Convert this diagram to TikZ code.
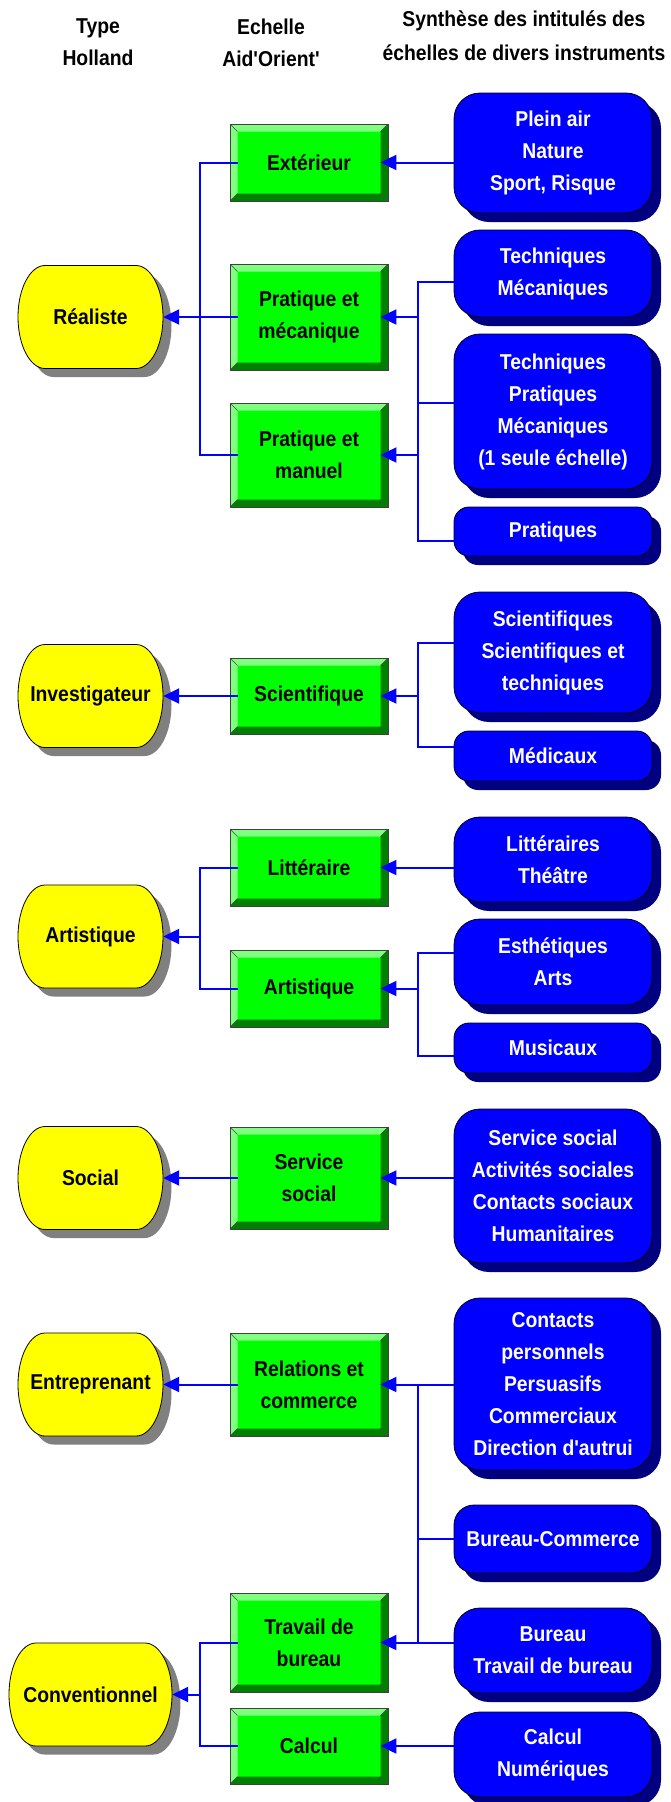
\documentclass[tikz,border=0pt]{standalone}
\usepackage{fontspec}
\setmainfont{Liberation Sans}[FakeStretch=0.9,Ligatures=TeXOff]
\usetikzlibrary{arrows.meta,shadows}
\pgfdeclarelayer{bg}
\pgfsetlayers{bg,main}
\definecolor{yfill}{HTML}{FFFF00}
\definecolor{yshadow}{HTML}{808080}
\definecolor{gfill}{HTML}{00FF00}
\definecolor{glight}{HTML}{80FF80}
\definecolor{gdark}{HTML}{008000}
\definecolor{bfill}{HTML}{0000FF}
\definecolor{bshadow}{HTML}{000080}
\definecolor{lineblue}{HTML}{0000FF}
\newcommand\gbevel{7.5pt}
\tikzset{
  every node/.style={font=\fontsize{21.5}{32}\selectfont\bfseries, inner sep=0pt, align=center},
  ybox/.style={minimum height=103pt, text=black},
  gbox/.style={fill=gfill, draw=black!75, line width=0.8pt, minimum width=158pt, text=black,
    path picture={
      \fill[glight] (path picture bounding box.north west) -- (path picture bounding box.north east)
        -- ([shift={(-\gbevel,-\gbevel)}]path picture bounding box.north east)
        -- ([shift={(\gbevel,-\gbevel)}]path picture bounding box.north west) -- cycle;
      \fill[glight] (path picture bounding box.north west) -- ([shift={(\gbevel,-\gbevel)}]path picture bounding box.north west)
        -- ([shift={(\gbevel,\gbevel)}]path picture bounding box.south west)
        -- (path picture bounding box.south west) -- cycle;
      \fill[gdark] (path picture bounding box.south west) -- (path picture bounding box.south east)
        -- ([shift={(-\gbevel,\gbevel)}]path picture bounding box.south east)
        -- ([shift={(\gbevel,\gbevel)}]path picture bounding box.south west) -- cycle;
      \fill[gdark] (path picture bounding box.north east) -- ([shift={(-\gbevel,-\gbevel)}]path picture bounding box.north east)
        -- ([shift={(-\gbevel,\gbevel)}]path picture bounding box.south east)
        -- (path picture bounding box.south east) -- cycle;
      \draw[black!70, line width=0.5pt]
        (path picture bounding box.north west) -- ([shift={(\gbevel,-\gbevel)}]path picture bounding box.north west)
        (path picture bounding box.north east) -- ([shift={(-\gbevel,-\gbevel)}]path picture bounding box.north east)
        (path picture bounding box.south west) -- ([shift={(\gbevel,\gbevel)}]path picture bounding box.south west)
        (path picture bounding box.south east) -- ([shift={(-\gbevel,\gbevel)}]path picture bounding box.south east);
    }},
  bbox/.style={fill=bfill, draw=black, line width=0.8pt, text=white, minimum width=198pt,
    drop shadow={shadow xshift=9pt, shadow yshift=-9pt, fill=bshadow, opacity=1}},
  conn/.style={draw=lineblue, line width=2pt},
  arr/.style={conn, -{Triangle[length=16pt,width=15pt]}},
}
% name, x, y, width, text
\newcommand\yellownode[5]{%
  \node[ybox, minimum width=#4pt] (#1) at (#2,#3) {#5};
  \begin{pgfonlayer}{bg}
    \fill[yshadow, shift={(8.5pt,-8.5pt)}] ({#2-#4/2+27},{#3-51.5}) -- ({#2+#4/2-27},{#3-51.5})
      arc[start angle=90, end angle=-90, x radius=27pt, y radius=51.5pt]
      -- ({#2-#4/2+27},{#3+51.5})
      arc[start angle=270, end angle=90, x radius=27pt, y radius=51.5pt] -- cycle;
    \filldraw[fill=yfill, draw=black, line width=0.8pt] ({#2-#4/2+27},{#3-51.5}) -- ({#2+#4/2-27},{#3-51.5})
      arc[start angle=90, end angle=-90, x radius=27pt, y radius=51.5pt]
      -- ({#2-#4/2+27},{#3+51.5})
      arc[start angle=270, end angle=90, x radius=27pt, y radius=51.5pt] -- cycle;
  \end{pgfonlayer}
}
\begin{document}
\begin{tikzpicture}[x=1pt, y=-1pt]
\useasboundingbox (0,0) rectangle (670,1802);
\begin{pgfonlayer}{bg}
  \fill[white] (0,0) rectangle (670,1802);
\end{pgfonlayer}

% headers
\node (hType) at (98,42.5) {Type\\Holland};
\node (hEch) at (271,42.5) {Echelle\\Aid'Orient'};
\node[font=\fontsize{21.5}{34}\selectfont\bfseries] (hSyn) at (524,36) {Synthèse des intitulés des\\échelles de divers instruments};

% Holland types
\yellownode{real}{90.5}{317}{145}{Réaliste}
\yellownode{inv}{90.5}{696}{145}{Investigateur}
\yellownode{art}{90.5}{936.5}{145}{Artistique}
\yellownode{soc}{90.5}{1178}{145}{Social}
\yellownode{ent}{90.5}{1384.5}{145}{Entreprenant}
\yellownode{conv}{90.5}{1694.5}{163}{Conventionnel}

% Aid'Orient' scales
\node[gbox, minimum height=77pt] (ext) at (309,162.5) {Extérieur};
\node[gbox, minimum height=106pt] (pmeca) at (309,317) {Pratique et\\mécanique};
\node[gbox, minimum height=104pt] (pman) at (309,455) {Pratique et\\manuel};
\node[gbox, minimum height=76pt] (sci) at (309,696) {Scientifique};
\node[gbox, minimum height=77pt] (litt) at (309,867.5) {Littéraire};
\node[gbox, minimum height=77pt] (artg) at (309,988.5) {Artistique};
\node[gbox, minimum height=102pt] (ssoc) at (309,1178) {Service\\social};
\node[gbox, minimum height=103pt] (rel) at (309,1384.5) {Relations et\\commerce};
\node[gbox, minimum height=99pt] (trav) at (309,1642.5) {Travail de\\bureau};
\node[gbox, minimum height=76pt] (calc) at (309,1746) {Calcul};

% instrument scales
\node[bbox, minimum height=120pt, rounded corners=26pt] (b1) at (553,153) {Plein air\\Nature\\Sport, Risque};
\node[bbox, minimum height=87pt, rounded corners=26pt] (b2) at (553,273.5) {Techniques\\Mécaniques};
\node[bbox, minimum height=155pt, rounded corners=26pt] (b3) at (553,411.5) {Techniques\\Pratiques\\Mécaniques\\(1 seule échelle)};
\node[bbox, minimum height=49pt, rounded corners=15pt] (b4) at (553,531.5) {Pratiques};
\node[bbox, minimum height=121pt, rounded corners=26pt] (b5) at (553,652.5) {Scientifiques\\Scientifiques et\\techniques};
\node[bbox, minimum height=50pt, rounded corners=15pt] (b6) at (553,756) {Médicaux};
\node[bbox, minimum height=85pt, rounded corners=26pt] (b7) at (553,859.5) {Littéraires\\Théâtre};
\node[bbox, minimum height=86pt, rounded corners=26pt] (b8) at (553,962) {Esthétiques\\Arts};
\node[bbox, minimum height=50pt, rounded corners=15pt] (b9) at (553,1048) {Musicaux};
\node[bbox, minimum height=154pt, rounded corners=26pt] (b10) at (553,1186) {Service social\\Activités sociales\\Contacts sociaux\\Humanitaires};
\node[bbox, minimum height=172pt, rounded corners=26pt] (b11) at (553,1384) {Contacts\\personnels\\Persuasifs\\Commerciaux\\Direction d'autrui};
\node[bbox, minimum height=68pt, rounded corners=20pt] (b12) at (553,1539) {Bureau-Commerce};
\node[bbox, minimum height=85pt, rounded corners=26pt] (b13) at (553,1650.5) {Bureau\\Travail de bureau};
\node[bbox, minimum height=85pt, rounded corners=26pt] (b14) at (553,1754.5) {Calcul\\Numériques};

% bus positions and connection points
\coordinate (xL) at (200,0);
\coordinate (xR) at (418,0);
\coordinate (p2) at ([yshift=-8.5pt]b2.west);
\coordinate (p3) at ([yshift=8.5pt]b3.west);
\coordinate (p4) at ([yshift=-9.5pt]b4.west);
\coordinate (p5) at ([yshift=9.5pt]b5.west);
\coordinate (p6) at ([yshift=9pt]b6.west);
\coordinate (p8) at ([yshift=9pt]b8.west);
\coordinate (p9) at ([yshift=-8pt]b9.west);

% Realiste
\draw[arr] (b1.west |- ext.east) -- ([xshift=-8pt]ext.east);
\draw[conn] (p2) -- (p2 -| xR) -- (p4 -| xR) -- (p4);
\draw[conn] (p3) -- (p3 -| xR);
\draw[arr] (pmeca.east -| xR) -- ([xshift=-8pt]pmeca.east);
\draw[arr] (pman.east -| xR) -- ([xshift=-8pt]pman.east);
\draw[conn] ([xshift=8pt]ext.west) -- (ext.west -| xL) -- (pman.west -| xL) -- ([xshift=8pt]pman.west);
\draw[arr] ([xshift=8pt]pmeca.west) -- (real.east);

% Investigateur
\draw[conn] (p5) -- (p5 -| xR) -- (p6 -| xR) -- (p6);
\draw[arr] (sci.east -| xR) -- ([xshift=-8pt]sci.east);
\draw[arr] ([xshift=8pt]sci.west) -- (inv.east);

% Artistique
\draw[arr] (b7.west |- litt.east) -- ([xshift=-8pt]litt.east);
\draw[conn] (p8) -- (p8 -| xR) -- (p9 -| xR) -- (p9);
\draw[arr] (artg.east -| xR) -- ([xshift=-8pt]artg.east);
\draw[conn] ([xshift=8pt]litt.west) -- (litt.west -| xL) -- (artg.west -| xL) -- ([xshift=8pt]artg.west);
\draw[arr] (art.east -| xL) -- (art.east);

% Social
\draw[arr] (b10.west |- ssoc.east) -- ([xshift=-8pt]ssoc.east);
\draw[arr] ([xshift=8pt]ssoc.west) -- (soc.east);

% Entreprenant / Conventionnel
\draw[conn] (b11.west |- rel.east) -- (rel.east -| xR) -- (trav.east -| xR);
\draw[conn] (b12.west) -- (b12.west -| xR);
\draw[conn] (b13.west |- trav.east) -- (trav.east -| xR);
\draw[arr] (rel.east -| xR) -- ([xshift=-8pt]rel.east);
\draw[arr] (trav.east -| xR) -- ([xshift=-8pt]trav.east);
\draw[arr] ([xshift=8pt]rel.west) -- (ent.east);
\draw[conn] ([xshift=8pt]trav.west) -- (trav.west -| xL) -- (calc.west -| xL) -- ([xshift=8pt]calc.west);
\draw[arr] (conv.east -| xL) -- (conv.east);
\draw[arr] (b14.west |- calc.east) -- ([xshift=-8pt]calc.east);
\end{tikzpicture}
\end{document}
